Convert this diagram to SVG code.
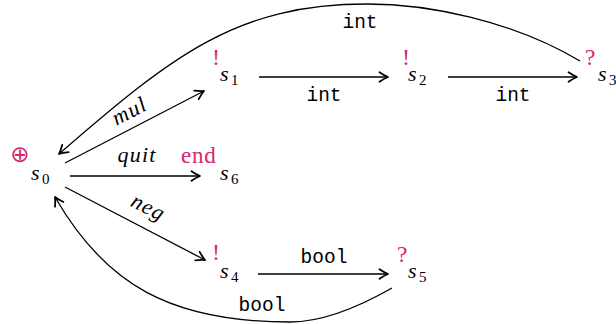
<svg xmlns="http://www.w3.org/2000/svg" width="616" height="324" viewBox="0 0 616 324">
<style>
.e{fill:none;stroke:#000;stroke-width:1.3}
.r{fill:#d6286e}
</style>
<defs>
<marker id="ah" markerUnits="userSpaceOnUse" markerWidth="20" markerHeight="20" viewBox="-10 -10 20 20" refX="0" refY="0" orient="auto">
<path d="M -8.5,-4.8 Q -3.5,-1.4 0,0 Q -3.5,1.4 -8.5,4.8" fill="none" stroke="#000" stroke-width="1.8" stroke-linecap="round" stroke-linejoin="round"/>
</marker>
</defs>
<g id="connectors">
<path class="e" d="M65,163 L204,91" marker-end="url(#ah)"/>
<path class="e" d="M70,176 L200,176" marker-end="url(#ah)"/>
<path class="e" d="M65,187 L205,260" marker-end="url(#ah)"/>
<path class="e" d="M259,77 L388,77" marker-end="url(#ah)"/>
<path class="e" d="M448,77 L577,77" marker-end="url(#ah)"/>
<path class="e" d="M258,274 L388,274" marker-end="url(#ah)"/>
<path class="e" d="M580,61 C511,20 427,4 367,4 C237,4 173,55 59,154" marker-end="url(#ah)"/>
<path class="e" d="M392,288 C357,308 320,322 290,322 C170,322 105,284 55,197" marker-end="url(#ah)"/>
<text font-family="Liberation Serif" font-style="italic" font-size="22" letter-spacing="1.2" x="130" y="118" text-anchor="middle" transform="rotate(-27.4 130 112)">mul</text>
<text font-family="Liberation Serif" font-style="italic" font-size="22" letter-spacing="1.2" x="137" y="162" text-anchor="middle">quit</text>
<text font-family="Liberation Serif" font-style="italic" font-size="22" letter-spacing="1.2" x="147" y="214" text-anchor="middle" transform="rotate(27.5 147 210)">neg</text>
<text font-family="Liberation Mono" font-size="19.5" x="324" y="101" text-anchor="middle">int</text>
<text font-family="Liberation Mono" font-size="19.5" x="513" y="101" text-anchor="middle">int</text>
<text font-family="Liberation Mono" font-size="19.5" x="360" y="28" text-anchor="middle">int</text>
<text font-family="Liberation Mono" font-size="19.5" x="324" y="263" text-anchor="middle">bool</text>
<text font-family="Liberation Mono" font-size="19.5" x="262" y="311" text-anchor="middle">bool</text>
</g>
<g id="s0">
<text class="r" font-family="DejaVu Sans" font-size="23" x="20" y="162" text-anchor="middle">⊕</text>
<text font-family="Liberation Serif" font-style="italic" font-size="22" x="31" y="180">s</text>
<text font-family="Liberation Serif" font-size="15" x="42" y="184">0</text>
</g>
<g id="s1">
<text class="r" font-family="Liberation Serif" font-size="24" x="216" y="65" text-anchor="middle">!</text>
<text font-family="Liberation Serif" font-style="italic" font-size="22" x="220" y="81">s</text>
<text font-family="Liberation Serif" font-size="15" x="231" y="85">1</text>
</g>
<g id="s2">
<text class="r" font-family="Liberation Serif" font-size="24" x="406" y="65" text-anchor="middle">!</text>
<text font-family="Liberation Serif" font-style="italic" font-size="22" x="408" y="81">s</text>
<text font-family="Liberation Serif" font-size="15" x="419" y="85">2</text>
</g>
<g id="s3">
<text class="r" font-family="Liberation Serif" font-size="24" x="590" y="65" text-anchor="middle">?</text>
<text font-family="Liberation Serif" font-style="italic" font-size="22" x="598" y="81">s</text>
<text font-family="Liberation Serif" font-size="15" x="609" y="85">3</text>
</g>
<g id="s6">
<text class="r" font-family="Liberation Serif" font-size="23" letter-spacing="0.8" x="181" y="163">end</text>
<text font-family="Liberation Serif" font-style="italic" font-size="22" x="220" y="180">s</text>
<text font-family="Liberation Serif" font-size="15" x="231" y="184">6</text>
</g>
<g id="s4">
<text class="r" font-family="Liberation Serif" font-size="24" x="216" y="260" text-anchor="middle">!</text>
<text font-family="Liberation Serif" font-style="italic" font-size="22" x="220" y="278">s</text>
<text font-family="Liberation Serif" font-size="15" x="231" y="282">4</text>
</g>
<g id="s5">
<text class="r" font-family="Liberation Serif" font-size="24" x="402" y="262" text-anchor="middle">?</text>
<text font-family="Liberation Serif" font-style="italic" font-size="22" x="408" y="278">s</text>
<text font-family="Liberation Serif" font-size="15" x="419" y="282">5</text>
</g>
</svg>
